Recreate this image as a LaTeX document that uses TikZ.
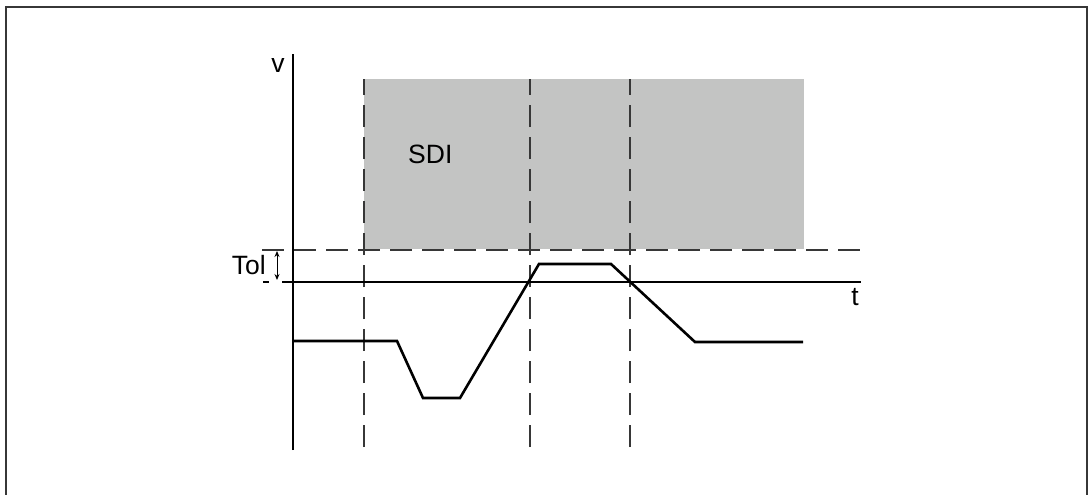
\documentclass[tikz,border=0pt]{standalone}
\usepackage{fontspec}
\setmainfont{Liberation Sans}
\usetikzlibrary{arrows.meta}
\definecolor{sdigray}{RGB}{195,196,195}
\definecolor{linegray}{RGB}{55,55,55}

\begin{document}
\begin{tikzpicture}[x=1pt,y=-1pt,font=\fontsize{26.5}{30}\selectfont,
  dashline/.style={linegray,line width=1.3pt,dash pattern=on 22pt off 10pt}]
\useasboundingbox (0,0) rectangle (1088,495);
\draw[linegray,line width=1.5pt] (6,495) -- (6,7) -- (1087,7) -- (1087,495);
\fill[sdigray] (364,79) rectangle (804,249);
\foreach \x in {364,530,630}
   \draw[dashline] (\x,447) -- (\x,79);
\draw[dashline] (262,250) -- (860,250);

\draw[line width=1.2pt] (293,450) -- (293,54);
\draw[line width=1.2pt] (282,282) -- (861,282);
\draw[line width=1.2pt] (263,282) -- (269,282);
\draw[{Stealth[length=6pt,width=5pt]}-{Stealth[length=6pt,width=5pt]},line width=0.9pt] (277,251) -- (277,280);

\draw[line width=2.6pt] (293,341) -- (397,341) -- (423,398) -- (460,398)
   -- (539,264) -- (611,264) -- (695,342) -- (803,342);

\node (v) [anchor=base] at (278,73) {v};
\node (t) [anchor=base] at (855,305) {t};
\node (tol) [anchor=base east,inner sep=0pt] at (266,274) {Tol};
\node (sdi) [anchor=base west,inner sep=0pt] at (408,164) {SDI};
\end{tikzpicture}
\end{document}
